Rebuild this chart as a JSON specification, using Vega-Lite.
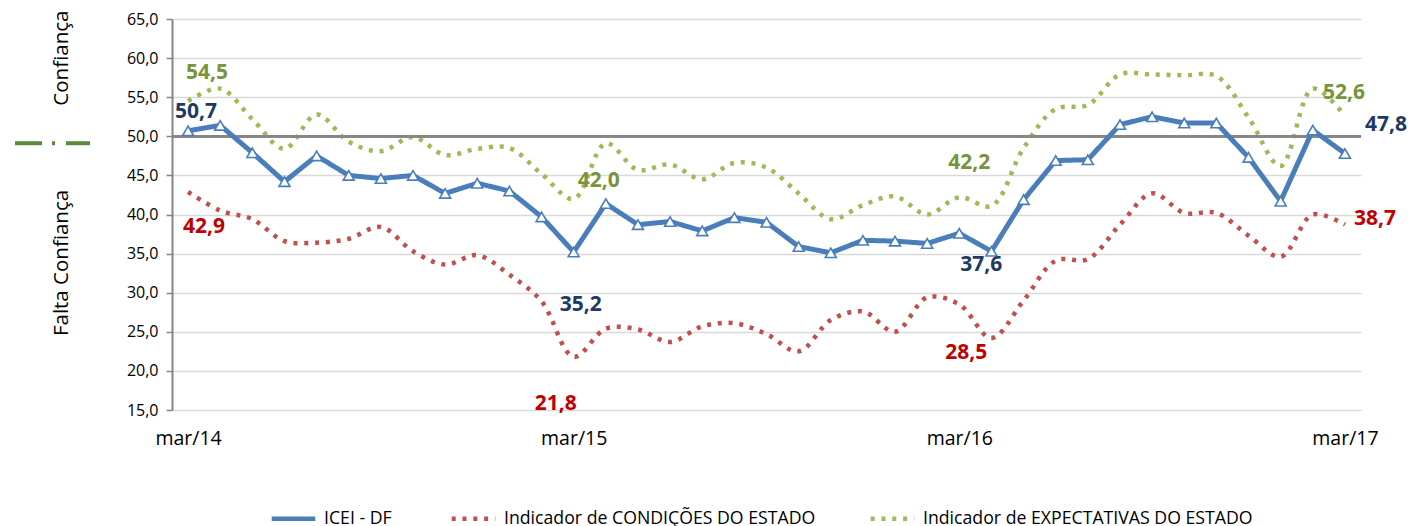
{
  "$schema": "https://vega.github.io/schema/vega-lite/v6.json",
  "padding": {"left": 0, "top": 10, "right": 0, "bottom": 0},
  "background": "white",
  "config": {
    "locale": {"number": {"decimal": ",", "thousands": ".", "grouping": [3], "currency": ["R$", ""]}},
    "view": {"stroke": null},
    "font": "Open Sans",
    "concat": {"spacing": 26}
  },
  "datasets": {
    "d": [
      {"mes": "mar/14", "ICEI": 50.7, "CONDICOES": 42.9, "EXPECTATIVAS": 54.5},
      {"mes": "abr/14", "ICEI": 51.4, "CONDICOES": 40.5, "EXPECTATIVAS": 56.1},
      {"mes": "mai/14", "ICEI": 47.9, "CONDICOES": 39.4, "EXPECTATIVAS": 52.2},
      {"mes": "jun/14", "ICEI": 44.2, "CONDICOES": 36.6, "EXPECTATIVAS": 48.4},
      {"mes": "jul/14", "ICEI": 47.5, "CONDICOES": 36.4, "EXPECTATIVAS": 52.8},
      {"mes": "ago/14", "ICEI": 45.0, "CONDICOES": 36.9, "EXPECTATIVAS": 49.3},
      {"mes": "set/14", "ICEI": 44.6, "CONDICOES": 38.4, "EXPECTATIVAS": 48.1},
      {"mes": "out/14", "ICEI": 45.0, "CONDICOES": 35.3, "EXPECTATIVAS": 49.9},
      {"mes": "nov/14", "ICEI": 42.7, "CONDICOES": 33.6, "EXPECTATIVAS": 47.6},
      {"mes": "dez/14", "ICEI": 44.0, "CONDICOES": 34.8, "EXPECTATIVAS": 48.4},
      {"mes": "jan/15", "ICEI": 43.0, "CONDICOES": 32.3, "EXPECTATIVAS": 48.5},
      {"mes": "fev/15", "ICEI": 39.7, "CONDICOES": 28.9, "EXPECTATIVAS": 45.2},
      {"mes": "mar/15", "ICEI": 35.2, "CONDICOES": 21.8, "EXPECTATIVAS": 42.0},
      {"mes": "abr/15", "ICEI": 41.4, "CONDICOES": 25.4, "EXPECTATIVAS": 49.1},
      {"mes": "mai/15", "ICEI": 38.7, "CONDICOES": 25.3, "EXPECTATIVAS": 45.7},
      {"mes": "jun/15", "ICEI": 39.1, "CONDICOES": 23.7, "EXPECTATIVAS": 46.4},
      {"mes": "jul/15", "ICEI": 37.9, "CONDICOES": 25.7, "EXPECTATIVAS": 44.5},
      {"mes": "ago/15", "ICEI": 39.6, "CONDICOES": 26.1, "EXPECTATIVAS": 46.6},
      {"mes": "set/15", "ICEI": 39.0, "CONDICOES": 24.7, "EXPECTATIVAS": 46.0},
      {"mes": "out/15", "ICEI": 35.9, "CONDICOES": 22.5, "EXPECTATIVAS": 42.7},
      {"mes": "nov/15", "ICEI": 35.1, "CONDICOES": 26.5, "EXPECTATIVAS": 39.4},
      {"mes": "dez/15", "ICEI": 36.7, "CONDICOES": 27.6, "EXPECTATIVAS": 41.2},
      {"mes": "jan/16", "ICEI": 36.6, "CONDICOES": 25.0, "EXPECTATIVAS": 42.3},
      {"mes": "fev/16", "ICEI": 36.3, "CONDICOES": 29.4, "EXPECTATIVAS": 40.0},
      {"mes": "mar/16", "ICEI": 37.6, "CONDICOES": 28.5, "EXPECTATIVAS": 42.2},
      {"mes": "abr/16", "ICEI": 35.3, "CONDICOES": 24.2, "EXPECTATIVAS": 41.1},
      {"mes": "mai/16", "ICEI": 41.9, "CONDICOES": 29.0, "EXPECTATIVAS": 48.5},
      {"mes": "jun/16", "ICEI": 46.9, "CONDICOES": 34.1, "EXPECTATIVAS": 53.5},
      {"mes": "jul/16", "ICEI": 47.0, "CONDICOES": 34.3, "EXPECTATIVAS": 54.0},
      {"mes": "ago/16", "ICEI": 51.5, "CONDICOES": 38.7, "EXPECTATIVAS": 57.9},
      {"mes": "set/16", "ICEI": 52.5, "CONDICOES": 42.7, "EXPECTATIVAS": 57.9},
      {"mes": "out/16", "ICEI": 51.7, "CONDICOES": 40.2, "EXPECTATIVAS": 57.8},
      {"mes": "nov/16", "ICEI": 51.7, "CONDICOES": 40.2, "EXPECTATIVAS": 57.7},
      {"mes": "dez/16", "ICEI": 47.3, "CONDICOES": 37.3, "EXPECTATIVAS": 52.4},
      {"mes": "jan/17", "ICEI": 41.7, "CONDICOES": 34.6, "EXPECTATIVAS": 46.2},
      {"mes": "fev/17", "ICEI": 50.8, "CONDICOES": 40.0, "EXPECTATIVAS": 56.1},
      {"mes": "mar/17", "ICEI": 47.8, "CONDICOES": 38.7, "EXPECTATIVAS": 52.6}
    ]
  },
  "hconcat": [
    {
      "width": 100,
      "height": 391,
      "data": {"values": [{}]},
      "layer": [
        {
          "mark": {"type": "text", "angle": 270, "fontSize": 20.5, "color": "black", "baseline": "middle", "align": "center"},
          "encoding": {
            "x": {"datum": 62, "type": "quantitative", "scale": {"domain": [0, 100], "nice": false}, "axis": null},
            "y": {"datum": 60, "type": "quantitative", "scale": {"domain": [15, 65], "nice": false}, "axis": null},
            "text": {"value": "Confiança"}
          }
        },
        {
          "mark": {"type": "text", "angle": 270, "fontSize": 20.5, "color": "black", "baseline": "middle", "align": "center"},
          "encoding": {
            "x": {"datum": 62, "type": "quantitative"},
            "y": {"datum": 33.8, "type": "quantitative"},
            "text": {"value": "Falta Confiança"}
          }
        },
        {
          "mark": {"type": "rule", "color": "#5b8a3a", "strokeWidth": 4, "strokeDash": [27, 10, 3, 11, 25, 200]},
          "encoding": {
            "x": {"datum": 15, "type": "quantitative"},
            "x2": {"datum": 90},
            "y": {"datum": 49.1, "type": "quantitative"}
          }
        }
      ]
    },
    {
      "width": 1189,
      "height": 391,
      "data": {"name": "d"},
      "transform": [{"fold": ["ICEI", "CONDICOES", "EXPECTATIVAS"], "as": ["serie", "valor"]}],
      "encoding": {
        "x": {"field": "mes", "type": "ordinal", "sort": null, "scale": {"type": "point", "padding": 0.5},
          "axis": {"values": ["mar/14", "mar/15", "mar/16", "mar/17"], "title": null, "ticks": false, "domain": false, "grid": false, "labelFontSize": 19.5, "labelPadding": 19, "labelAngle": 0, "labelColor": "black"}},
        "y": {"field": "valor", "type": "quantitative", "scale": {"domain": [15, 65], "nice": false},
          "axis": {"title": null, "values": [15, 20, 25, 30, 35, 40, 45, 50, 55, 60, 65], "tickCount": 20, "format": ".1f", "labelFontSize": 16, "labelColor": "black", "labelOverlap": false, "grid": true, "tickColor": "#868686", "tickSize": 6, "tickWidth": 1.5, "domainColor": "#868686", "domainWidth": 2, "gridColor": "#d9d9d9", "gridWidth": 1.3, "labelPadding": 8}}
      },
      "layer": [
        {
          "transform": [{"filter": "datum.serie != 'ICEI'"}],
          "mark": {"type": "line", "interpolate": "catmull-rom", "strokeWidth": 4.5},
          "encoding": {
            "color": {"field": "serie", "type": "nominal",
              "scale": {"domain": ["ICEI", "CONDICOES", "EXPECTATIVAS"], "range": ["#4a7ebb", "#c0504d", "#9bbb59"]},
              "legend": {"orient": "none", "legendX": 269, "legendY": 475, "direction": "horizontal", "title": null, "labelFontSize": 17.7, "labelLimit": 0, "labelColor": "black", "symbolType": "stroke", "symbolSize": 1900, "symbolStrokeWidth": 4.5, "columnPadding": 45, "labelOffset": 6, "padding": 0,
                "labelExpr": "datum.value == 'ICEI' ? 'ICEI  - DF' : datum.value == 'CONDICOES' ? 'Indicador de CONDIÇÕES DO ESTADO' : 'Indicador de EXPECTATIVAS  DO ESTADO'"}},
            "strokeDash": {"field": "serie", "type": "nominal",
              "scale": {"domain": ["ICEI", "CONDICOES", "EXPECTATIVAS"], "range": [[1, 0], [4, 6.8], [4, 6.8]]}}
          }
        },
        {
          "mark": {"type": "rule", "color": "#868686", "strokeWidth": 2},
          "encoding": {
            "x": null,
            "y": {"datum": 50, "type": "quantitative"}
          }
        },
        {
          "transform": [{"filter": "datum.serie == 'ICEI'"}],
          "mark": {"type": "line", "strokeWidth": 5, "strokeJoin": "round"},
          "encoding": {
            "color": {"field": "serie", "type": "nominal"},
            "strokeDash": {"field": "serie", "type": "nominal"}
          }
        },
        {
          "transform": [{"filter": "datum.serie == 'ICEI'"}],
          "mark": {"type": "point", "shape": "triangle-up", "filled": true, "fill": "white", "stroke": "#4a7ebb", "strokeWidth": 1.6, "size": 120, "opacity": 1}
        },
        {
          "transform": [{"filter": "datum.serie == 'ICEI' && datum.mes == 'mar/14'"}],
          "mark": {"type": "text", "fontSize": 21, "fontWeight": "bold", "color": "#1f3864", "dx": 8, "dy": -19},
          "encoding": {"text": {"field": "valor", "type": "quantitative", "format": ".1f"}}
        },
        {
          "transform": [{"filter": "datum.serie == 'ICEI' && datum.mes == 'mar/15'"}],
          "mark": {"type": "text", "fontSize": 21, "fontWeight": "bold", "color": "#1f3864", "dx": 7, "dy": 53},
          "encoding": {"text": {"field": "valor", "type": "quantitative", "format": ".1f"}}
        },
        {
          "transform": [{"filter": "datum.serie == 'ICEI' && datum.mes == 'mar/16'"}],
          "mark": {"type": "text", "fontSize": 21, "fontWeight": "bold", "color": "#1f3864", "dx": 22, "dy": 32},
          "encoding": {"text": {"field": "valor", "type": "quantitative", "format": ".1f"}}
        },
        {
          "transform": [{"filter": "datum.serie == 'ICEI' && datum.mes == 'mar/17'"}],
          "mark": {"type": "text", "fontSize": 21, "fontWeight": "bold", "color": "#1f3864", "dx": 41, "dy": -29},
          "encoding": {"text": {"field": "valor", "type": "quantitative", "format": ".1f"}}
        },
        {
          "transform": [{"filter": "datum.serie == 'CONDICOES' && datum.mes == 'mar/14'"}],
          "mark": {"type": "text", "fontSize": 21, "fontWeight": "bold", "color": "#c00000", "dx": 16, "dy": 35},
          "encoding": {"text": {"field": "valor", "type": "quantitative", "format": ".1f"}}
        },
        {
          "transform": [{"filter": "datum.serie == 'CONDICOES' && datum.mes == 'mar/15'"}],
          "mark": {"type": "text", "fontSize": 21, "fontWeight": "bold", "color": "#c00000", "dx": -18, "dy": 47},
          "encoding": {"text": {"field": "valor", "type": "quantitative", "format": ".1f"}}
        },
        {
          "transform": [{"filter": "datum.serie == 'CONDICOES' && datum.mes == 'mar/16'"}],
          "mark": {"type": "text", "fontSize": 21, "fontWeight": "bold", "color": "#c00000", "dx": 7, "dy": 49},
          "encoding": {"text": {"field": "valor", "type": "quantitative", "format": ".1f"}}
        },
        {
          "transform": [{"filter": "datum.serie == 'CONDICOES' && datum.mes == 'mar/17'"}],
          "mark": {"type": "text", "fontSize": 21, "fontWeight": "bold", "color": "#c00000", "dx": 30, "dy": -6},
          "encoding": {"text": {"field": "valor", "type": "quantitative", "format": ".1f"}}
        },
        {
          "transform": [{"filter": "datum.serie == 'EXPECTATIVAS' && datum.mes == 'mar/14'"}],
          "mark": {"type": "text", "fontSize": 21, "fontWeight": "bold", "color": "#77933c", "dx": 19, "dy": -28},
          "encoding": {"text": {"field": "valor", "type": "quantitative", "format": ".1f"}}
        },
        {
          "transform": [{"filter": "datum.serie == 'EXPECTATIVAS' && datum.mes == 'mar/15'"}],
          "mark": {"type": "text", "fontSize": 21, "fontWeight": "bold", "color": "#77933c", "dx": 25, "dy": -18},
          "encoding": {"text": {"field": "valor", "type": "quantitative", "format": ".1f"}}
        },
        {
          "transform": [{"filter": "datum.serie == 'EXPECTATIVAS' && datum.mes == 'mar/16'"}],
          "mark": {"type": "text", "fontSize": 21, "fontWeight": "bold", "color": "#77933c", "dx": 10, "dy": -34},
          "encoding": {"text": {"field": "valor", "type": "quantitative", "format": ".1f"}}
        },
        {
          "transform": [{"filter": "datum.serie == 'EXPECTATIVAS' && datum.mes == 'mar/17'"}],
          "mark": {"type": "text", "fontSize": 21, "fontWeight": "bold", "color": "#77933c", "dx": -1, "dy": -23},
          "encoding": {"text": {"field": "valor", "type": "quantitative", "format": ".1f"}}
        }
      ]
    }
  ]
}
